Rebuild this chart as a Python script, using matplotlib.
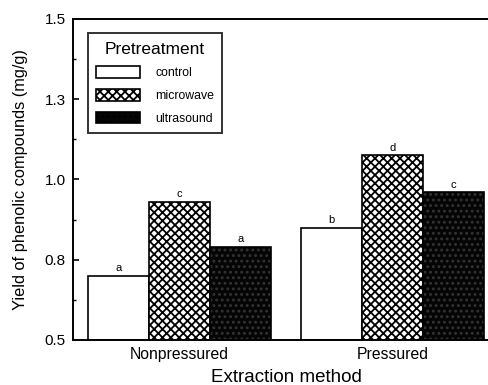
"""Yield of phenolic compounds by extraction method and pretreatment."""
import numpy as np
import matplotlib
matplotlib.use('Agg')
import matplotlib.pyplot as plt
from matplotlib.patches import Patch
from matplotlib.ticker import FixedLocator, MultipleLocator

plt.rcParams['font.family'] = ['Liberation Sans', 'DejaVu Sans']
plt.rcParams['hatch.linewidth'] = 1.3

methods = ['Nonpressured', 'Pressured']
pretreatments = ['control', 'microwave', 'ultrasound']
yields = {
    'control': [0.70, 0.85],
    'microwave': [0.93, 1.075],
    'ultrasound': [0.79, 0.96],
}
letters = {
    'control': ['a', 'b'],
    'microwave': ['c', 'd'],
    'ultrasound': ['a', 'c'],
}
ytick_vals = [0.5, 0.75, 1.0, 1.25, 1.5]
ytick_labels = ['0.5', '0.8', '1.0', '1.3', '1.5']

styles = {
    'control': dict(facecolor='white', hatch=None),
    'microwave': dict(facecolor='white', hatch='xxxx'),
    'ultrasound': dict(facecolor='#050505', hatch='...'),
}

fig = plt.figure(figsize=(4.89, 3.85), dpi=100)
ax = fig.add_axes([0.149, 0.117, 0.872, 0.834])

x = np.arange(len(methods))
width = 0.286
for i, p in enumerate(pretreatments):
    pos = x + (i - 1) * width
    st = styles[p]
    if p == 'ultrasound':
        ax.bar(pos, np.array(yields[p]) - 0.5, width, bottom=0.5,
               facecolor=st['facecolor'], edgecolor='#333333',
               hatch=st['hatch'], linewidth=0)
        ax.bar(pos, np.array(yields[p]) - 0.5, width, bottom=0.5,
               fill=False, edgecolor='black', linewidth=1.2)
    else:
        ax.bar(pos, np.array(yields[p]) - 0.5, width, bottom=0.5,
               facecolor=st['facecolor'], edgecolor='black',
               hatch=st['hatch'], linewidth=1.2)
    for xp, yv, lt in zip(pos, yields[p], letters[p]):
        ax.text(xp, yv + 0.008, lt, ha='center', va='bottom', fontsize=8)

ax.set_xlim(-0.5, 1.5)
ax.set_ylim(0.5, 1.5)
ax.yaxis.set_major_locator(FixedLocator(ytick_vals))
ax.set_yticklabels(ytick_labels)
ax.yaxis.set_minor_locator(MultipleLocator(0.125))
ax.tick_params(axis='y', which='major', direction='in', length=4.5, width=1.2,
               labelsize=11, pad=5)
ax.tick_params(axis='y', which='minor', direction='in', length=2.5, width=1.0)
ax.set_xticks(x)
ax.set_xticklabels(methods)
ax.tick_params(axis='x', length=0, labelsize=11.3, pad=5)
for s in ['left', 'bottom', 'top']:
    ax.spines[s].set_linewidth(1.4)
ax.spines['right'].set_visible(False)

ax.set_xlabel('Extraction method', fontsize=13.5, labelpad=5)
ax.set_ylabel('Yield of phenolic compounds (mg/g)', fontsize=11.8, labelpad=12)

handles = [Patch(facecolor=styles[p]['facecolor'], edgecolor='black',
                 hatch=styles[p]['hatch'], linewidth=1.2) for p in pretreatments]
leg = ax.legend(handles, pretreatments, title='Pretreatment', loc='upper left',
                bbox_to_anchor=(0.035, 0.956), borderaxespad=0,
                fontsize=8.8, title_fontsize=12.5,
                frameon=True, fancybox=False, edgecolor='black',
                handlelength=3.6, handleheight=1.07, labelspacing=0.8,
                borderpad=0.7, handletextpad=1.2)
leg.get_frame().set_linewidth(1.4)

fig.savefig('out.png', dpi=100)
